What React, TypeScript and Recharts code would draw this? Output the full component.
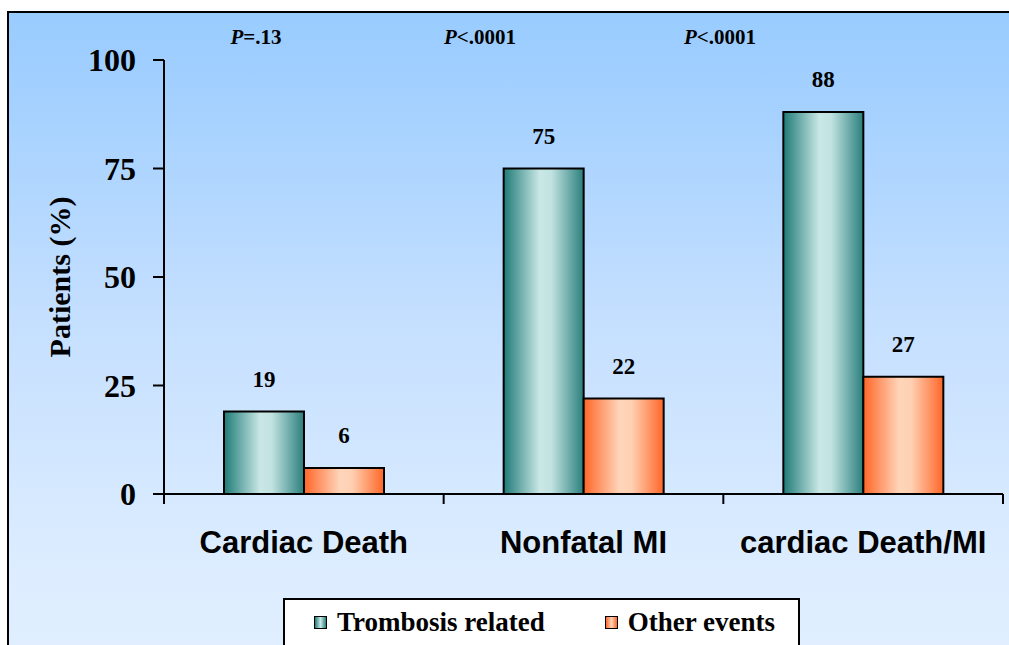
import { BarChart, Bar, XAxis, YAxis, Legend, LabelList } from "recharts"

const categories = ["Cardiac Death", "Nonfatal MI", "cardiac Death/MI"]
const thrombosisRelated = [19, 75, 88]
const otherEvents = [6, 22, 27]
const pValues = ["=.13", "<.0001", "<.0001"]
const yTicks = [0, 25, 50, 75, 100]

const data = categories.map((name, i) => ({
  name,
  thrombosis: thrombosisRelated[i],
  other: otherEvents[i],
}))

const SERIF = "'Liberation Serif', 'Times New Roman', serif"
const SANS = "'Liberation Sans', Arial, sans-serif"

// where the p-value notes sit above the plot
const pValueX = [256, 480, 720]
const legendOrder = ["thrombosis", "other"]

function CategoryTick(props: any) {
  const { x, y, payload, index, visibleTicksCount } = props
  const half = payload.offset || 139.8
  return (
    <g>
      <line x1={x - half} x2={x - half} y1={y} y2={y + 10} stroke="#000" strokeWidth={2} />
      {index === visibleTicksCount - 1 && (
        <line x1={x + half} x2={x + half} y1={y} y2={y + 10} stroke="#000" strokeWidth={2} />
      )}
      <text x={x} y={y + 59} textAnchor="middle" fontFamily={SANS} fontWeight="bold" fontSize={31} fill="#000">
        {payload.value}
      </text>
    </g>
  )
}

function LegendBox(props: any) {
  const items = [...(props.payload || [])].sort(
    (a: any, b: any) => legendOrder.indexOf(a.dataKey) - legendOrder.indexOf(b.dataKey)
  )
  const grads: Record<string, string> = {
    thrombosis: "linear-gradient(to right, #1E7B77, #C9E7E5 50%, #2A7F7C)",
    other: "linear-gradient(to right, #FF6628, #FFD5BA 50%, #FF6628)",
  }
  return (
    <div
      style={{
        width: 517,
        height: 60,
        boxSizing: "border-box",
        background: "#fff",
        border: "2px solid #000",
        display: "flex",
        alignItems: "flex-start",
        paddingLeft: 29,
        paddingTop: 7,
        gap: 60,
        fontFamily: SERIF,
        fontWeight: "bold",
        fontSize: 27,
        color: "#000",
      }}
    >
      {items.map((item: any) => (
        <div key={item.dataKey} style={{ display: "flex", alignItems: "center", gap: 10 }}>
          <span
            style={{
              display: "inline-block",
              width: 11,
              height: 11,
              border: "1.5px solid #000",
              background: grads[item.dataKey],
            }}
          />
          <span>{item.value}</span>
        </div>
      ))}
    </div>
  )
}

export default function App() {
  return (
    <div style={{ position: "absolute", left: 0, top: 0, width: 1009, height: 645, overflow: "hidden", background: "#fff" }}>
      <div
        style={{
          position: "absolute",
          left: 7,
          top: 11,
          width: 1030,
          height: 700,
          border: "2px solid #000",
          background: "linear-gradient(to bottom, #99CCFF 0px, #A3D0FF 80px, #C4DFFF 300px, #DDEDFF 560px, #E2EFFF 700px)",
        }}
      />
      <BarChart
        style={{ position: "absolute", left: 0, top: 0 }}
        width={1009}
        height={645}
        data={data}
        margin={{ top: 60, right: 6, left: 0, bottom: 91 }}
        barGap={0}
      >
        <defs>
          <linearGradient id="tealGrad" x1="0" y1="0" x2="1" y2="0">
            <stop offset="0%" stopColor="#1E7B77" />
            <stop offset="45%" stopColor="#C9E7E5" />
            <stop offset="60%" stopColor="#C0E2E0" />
            <stop offset="100%" stopColor="#2A7F7C" />
          </linearGradient>
          <linearGradient id="orangeGrad" x1="0" y1="0" x2="1" y2="0">
            <stop offset="0%" stopColor="#FF6628" />
            <stop offset="45%" stopColor="#FFD5BA" />
            <stop offset="60%" stopColor="#FFD0B2" />
            <stop offset="100%" stopColor="#FF6628" />
          </linearGradient>
        </defs>
        <XAxis
          dataKey="name"
          height={60}
          interval={0}
          tickSize={0}
          tickMargin={0}
          tickLine={false}
          axisLine={{ stroke: "#000", strokeWidth: 2 }}
          tick={<CategoryTick />}
        />
        <YAxis
          width={164}
          domain={[0, 100]}
          ticks={yTicks}
          tickSize={11}
          tickMargin={17}
          axisLine={{ stroke: "#000", strokeWidth: 2 }}
          tickLine={{ stroke: "#000", strokeWidth: 2 }}
          tick={{ fill: "#000", fontSize: 32, fontWeight: "bold", fontFamily: SERIF }}
          label={{
            value: "Patients (%)",
            content: (p: any) => {
              const cy = p.viewBox.y + p.viewBox.height / 2
              return (
                <text
                  x={59}
                  y={cy}
                  transform={`rotate(-90, 59, ${cy})`}
                  textAnchor="middle"
                  dominantBaseline="central"
                  fontFamily={SERIF}
                  fontWeight="bold"
                  fontSize={30}
                  fill="#000"
                >
                  Patients (%)
                </text>
              )
            },
          }}
        />
        <Legend
          layout="horizontal"
          verticalAlign="middle"
          align="center"
          wrapperStyle={{ left: 283, top: 598, width: 517, height: 60 }}
          content={<LegendBox />}
        />
        <Bar
          dataKey="thrombosis"
          name="Trombosis related"
          fill="url(#tealGrad)"
          stroke="#000"
          strokeWidth={2}
          barSize={80}
          isAnimationActive={false}
        >
          <LabelList
            dataKey="thrombosis"
            position="top"
            offset={25}
            fill="#000"
            fontSize={23}
            fontWeight="bold"
            fontFamily={SERIF}
          />
        </Bar>
        <Bar
          dataKey="other"
          name="Other events"
          fill="url(#orangeGrad)"
          stroke="#000"
          strokeWidth={2}
          barSize={80}
          isAnimationActive={false}
        >
          <LabelList
            dataKey="other"
            position="top"
            offset={25}
            fill="#000"
            fontSize={23}
            fontWeight="bold"
            fontFamily={SERIF}
          />
        </Bar>
        <g>
          {pValues.map((p, i) => (
            <text
              key={i}
              x={pValueX[i]}
              y={44}
              textAnchor="middle"
              fontFamily={SERIF}
              fontWeight="bold"
              fontSize={21}
              fill="#000"
            >
              <tspan fontStyle="italic">P</tspan>
              {p}
            </text>
          ))}
        </g>
      </BarChart>
    </div>
  )
}
